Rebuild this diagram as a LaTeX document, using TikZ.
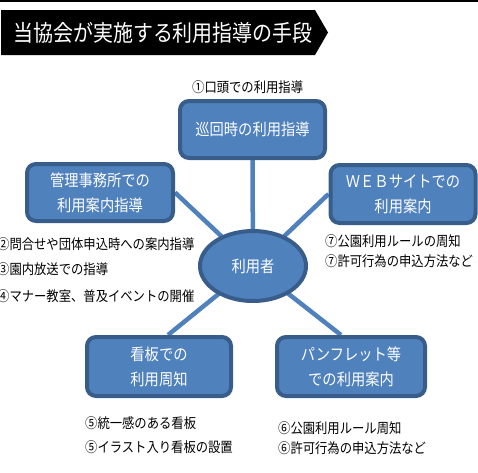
\documentclass[tikz,border=0pt]{standalone}
\usepackage{fontspec}
\setmainfont{Noto Sans CJK JP}[FakeStretch=0.88]
\usetikzlibrary{shapes.geometric,backgrounds}
\definecolor{boxfill}{RGB}{79,129,189}
\definecolor{boxline}{RGB}{56,93,138}
\definecolor{linkcol}{RGB}{79,129,189}
\begin{document}
\begin{tikzpicture}[x=1pt,y=-1pt,
 box/.style={draw=boxline,line width=4pt,fill=boxfill,rounded corners=9pt,text=white,align=center,font=\fontsize{16.2}{25}\selectfont,inner sep=0pt},
 note/.style={anchor=west,inner sep=0pt,font=\fontsize{14}{16}\selectfont,text=black},
 link/.style={draw=linkcol,line width=4.5pt}]
\useasboundingbox (0,0) rectangle (478,472);
\draw[line width=2pt] (0,1) -- (478,1);
\fill (1,10) -- (315,10) -- (328,32.5) -- (315,55) -- (1,55) -- cycle;
\node[text=white,font=\fontsize{22.7}{26}\selectfont] (title) at (163,32.5) {当協会が実施する利用指導の手段};

\node[box,minimum width=145pt,minimum height=57pt] (patrol) at (252.5,129.5) {巡回時の利用指導};
\node[box,minimum width=146pt,minimum height=57pt] (office) at (100,192.5) {管理事務所での\\利用案内指導};
\node[box,minimum width=145pt,minimum height=58pt] (web) at (403,194) {ＷＥＢサイトでの\\利用案内};
\node[box,minimum width=144pt,minimum height=59pt] (sign) at (159,366.5) {看板での\\利用周知};
\node[box,minimum width=148pt,minimum height=59pt] (pamph) at (351,366.5) {パンフレット等\\での利用案内};
\node[ellipse,draw=boxline,line width=4pt,fill=boxfill,text=white,font=\fontsize{16.2}{18}\selectfont,minimum width=106pt,minimum height=70pt,inner sep=0pt] (user) at (253,266) {利用者};

\node[note] (n1) at (192,87) {①口頭での利用指導};
\node[note] (n2) at (-3,244) {②問合せや団体申込時への案内指導};
\node[note] (n3) at (-3,269) {③園内放送での指導};
\node[note] (n4) at (-3,296) {④マナー教室、普及イベントの開催};
\node[note] (n7a) at (325,241) {⑦公園利用ルールの周知};
\node[note] (n7b) at (325,261) {⑦許可行為の申込方法など};
\node[note] (n5a) at (85,423) {⑤統一感のある看板};
\node[note] (n5b) at (85,447) {⑤イラスト入り看板の設置};
\node[note] (n6a) at (278,428) {⑥公園利用ルール周知};
\node[note] (n6b) at (278,448) {⑥許可行為の申込方法など};

\begin{pgfonlayer}{background}
\draw[link] (user.center) -- (patrol.south);
\draw[link] (user.center) -- (office.east);
\draw[link] (user.center) -- (web.west);
\draw[link] (user.center) -- ([xshift=9pt]sign.north);
\draw[link] (user.center) -- ([xshift=-10pt]pamph.north);
\end{pgfonlayer}
\end{tikzpicture}
\end{document}
